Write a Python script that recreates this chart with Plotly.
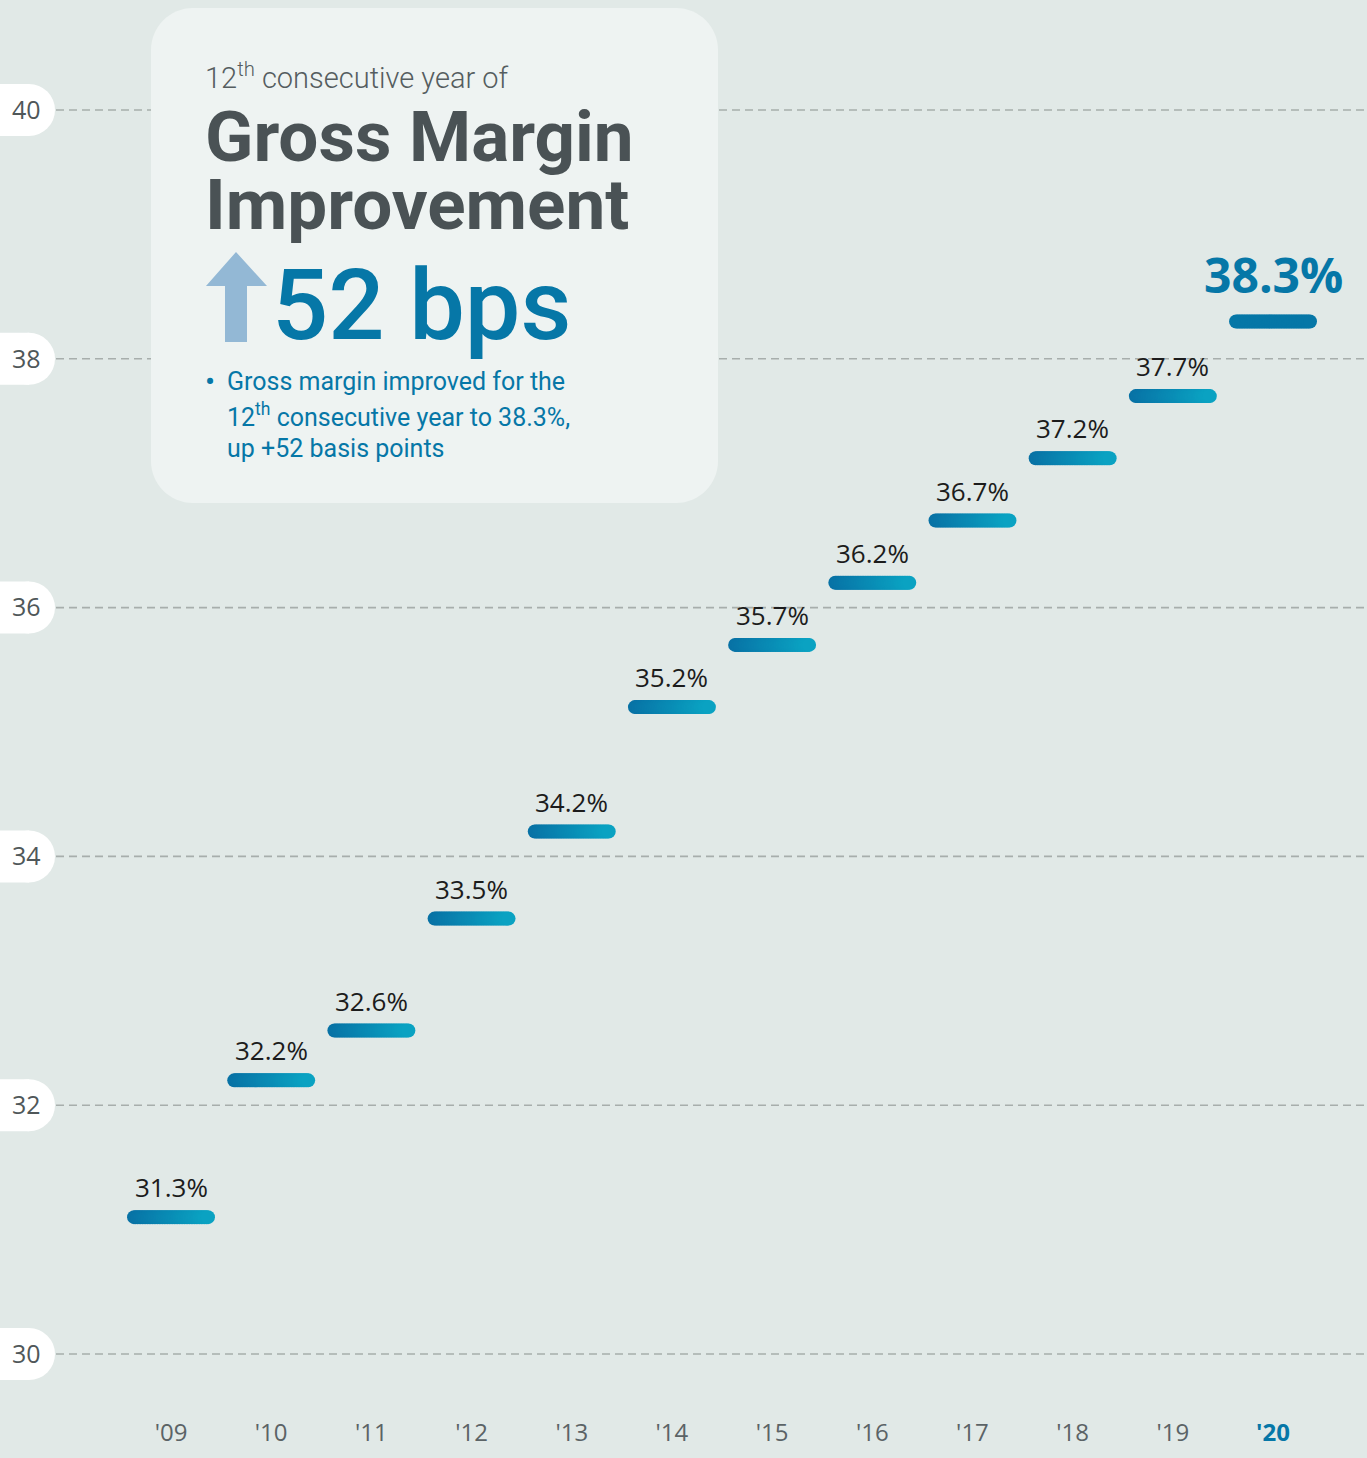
import numpy as np
import plotly.graph_objects as go

# ---------------- data ----------------
years = ["'09", "'10", "'11", "'12", "'13", "'14", "'15", "'16", "'17", "'18", "'19", "'20"]
bar_level = [31.1, 32.2, 32.6, 33.5, 34.2, 35.2, 35.7, 36.2, 36.7, 37.2, 37.7, 38.3]
labels = ["31.3%", "32.2%", "32.6%", "33.5%", "34.2%", "35.2%", "35.7%", "36.2%",
          "36.7%", "37.2%", "37.7%", "38.3%"]
y_ticks = [30, 32, 34, 36, 38, 40]

# ---------------- layout constants ----------------
W, H = 1367, 1458
MB = 48
PH = H - MB
BG = "#e1e9e7"
BOX = "#eef3f2"
BLUE = "#0677a7"
GRAD0 = (8, 114, 165)
GRAD1 = (10, 162, 194)
FONT = "Open Sans, Roboto, sans-serif"
TFONT = "Roboto, sans-serif"


def px(x, y):
    return x / W, 1 - y / PH


def rounded_rect(x0, y0, x1, y1, r):
    k = 0.5523 * r

    def P(x, y):
        a, b = px(x, y)
        return f"{a:.5f},{b:.5f}"
    d = f"M {P(x0 + r, y0)} L {P(x1 - r, y0)} "
    d += f"C {P(x1 - r + k, y0)} {P(x1, y0 + r - k)} {P(x1, y0 + r)} "
    d += f"L {P(x1, y1 - r)} "
    d += f"C {P(x1, y1 - r + k)} {P(x1 - r + k, y1)} {P(x1 - r, y1)} "
    d += f"L {P(x0 + r, y1)} "
    d += f"C {P(x0 + r - k, y1)} {P(x0, y1 - r + k)} {P(x0, y1 - r)} "
    d += f"L {P(x0, y0 + r)} "
    d += f"C {P(x0, y0 + r - k)} {P(x0 + r - k, y0)} {P(x0 + r, y0)} Z"
    return d


def poly(points):
    return "M " + " L ".join("{:.5f},{:.5f}".format(*px(x, y)) for x, y in points) + " Z"


fig = go.Figure()

n_pts = 45
half = 0.369
for i, lv in enumerate(bar_level):
    xs = i + np.linspace(-half, half, n_pts)
    if i == len(bar_level) - 1:
        cols = [BLUE] * n_pts
    else:
        cols = []
        for t in np.linspace(0, 1, n_pts):
            c = [int(round(a + (b - a) * t)) for a, b in zip(GRAD0, GRAD1)]
            cols.append("rgb({},{},{})".format(*c))
    fig.add_trace(go.Scatter(
        x=xs, y=[lv] * n_pts, mode="markers",
        marker=dict(size=14, color=cols, line=dict(width=0)),
        hoverinfo="skip", showlegend=False))

shapes = []
for t in y_ticks:
    shapes.append(dict(type="line", xref="paper", yref="y", x0=56 / W, x1=1, y0=t, y1=t,
                       line=dict(color="#a7aeac", width=1.6, dash="8px,5px"), layer="below"))
for t in y_ticks:
    shapes.append(dict(type="rect", xref="paper", yref="y", xsizemode="pixel", ysizemode="pixel",
                       xanchor=0, yanchor=t, x0=0, x1=29, y0=-26, y1=26,
                       fillcolor="white", line=dict(width=0), layer="below"))
    shapes.append(dict(type="circle", xref="paper", yref="y", xsizemode="pixel", ysizemode="pixel",
                       xanchor=0, yanchor=t, x0=3, x1=55, y0=-26, y1=26,
                       fillcolor="white", line=dict(width=0), layer="below"))
shapes.append(dict(type="path", xref="paper", yref="paper", path=rounded_rect(151, 8, 718, 503, 42),
                   fillcolor=BOX, line=dict(width=0), layer="below"))
shapes.append(dict(type="path", xref="paper", yref="paper",
                   path=poly([(236, 252), (267, 286), (247, 286), (247, 342), (225, 342), (225, 286), (206, 286)]),
                   fillcolor="#93b8d5", line=dict(width=0), layer="below"))

annotations = []
for i, (lv, lab) in enumerate(zip(bar_level, labels)):
    last = i == len(bar_level) - 1
    annotations.append(dict(
        x=i, y=lv, xref="x", yref="y", text=f"<b>{lab}</b>" if last else lab,
        showarrow=False, yshift=47 if last else 30,
        font=dict(family=FONT, size=48 if last else 26, color=BLUE if last else "#1c1c1c")))


def txt(x, y, text, size, color, family=FONT, weight=None):
    a, b = px(x, y)
    f = dict(family=family, size=size, color=color)
    if weight:
        f["weight"] = weight
    annotations.append(dict(x=a, y=b, xref="paper", yref="paper", text=text, showarrow=False,
                            xanchor="left", yanchor="middle", font=f))


txt(203, 76, "12<sup>th</sup> consecutive year of", 29, "#555d60", TFONT, 300)
txt(203, 136, "<b>Gross Margin</b>", 71, "#4a5255", TFONT)
txt(203, 205, "<b>Improvement</b>", 71, "#4a5255", TFONT)
txt(270, 305, "52 bps", 99, BLUE, TFONT, 500)
txt(203, 381, "•", 30, BLUE, TFONT)
txt(225, 381, "Gross margin improved for the", 25, BLUE, TFONT)
txt(225, 415, "12<sup>th</sup> consecutive year to 38.3%,", 25, BLUE, TFONT)
txt(225, 449, "up +52 basis points", 25, BLUE, TFONT)

ticktext = years[:-1] + [f"<b><span style='color:{BLUE}'>{years[-1]}</span></b>"]

fig.update_layout(
    width=W, height=H,
    margin=dict(l=0, r=0, t=0, b=MB),
    paper_bgcolor=BG, plot_bgcolor=BG,
    shapes=shapes, annotations=annotations,
    showlegend=False,
    xaxis=dict(range=[-1.707, 11.938], tickvals=list(range(len(years))), ticktext=ticktext,
               showgrid=False, zeroline=False, showline=False, ticks="", ticklabelstandoff=6,
               tickfont=dict(family=FONT, size=24, color="#5b6366")),
    yaxis=dict(range=[29.55, 40.884], tickvals=y_ticks, showgrid=False, zeroline=False,
               showline=False, ticks="", ticklabelposition="inside", ticklabelstandoff=9,
               tickfont=dict(family=FONT, size=25, color="#4f5759")),
)

fig.write_html("out.html", config={"displayModeBar": False},
               post_script="document.body.style.margin='0';")
